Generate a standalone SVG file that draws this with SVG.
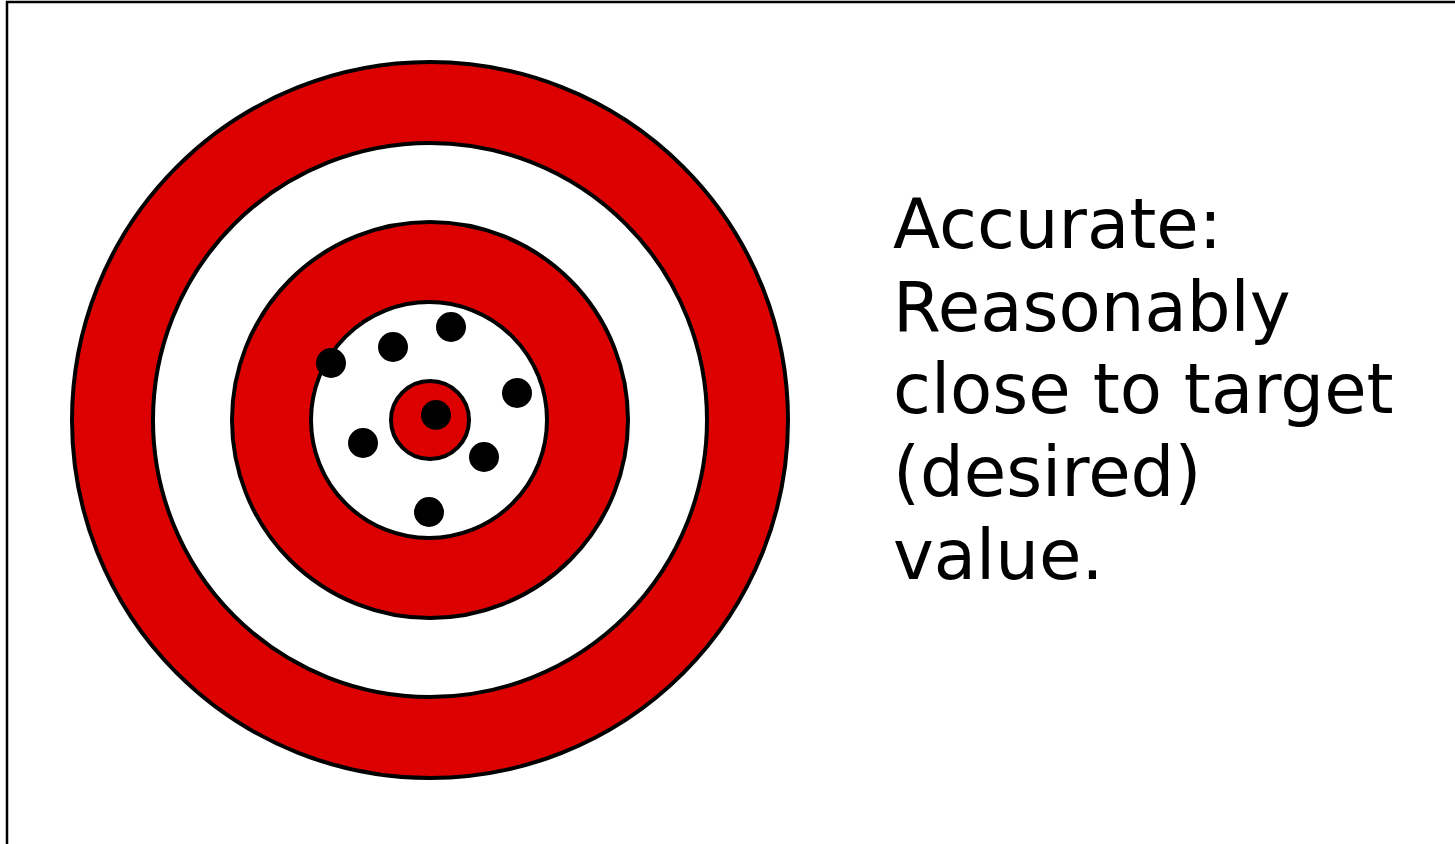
<svg xmlns="http://www.w3.org/2000/svg" width="1455" height="844" viewBox="0 0 1455 844">
<style>
.ring{stroke:#000;stroke-width:4}
.red{fill:#dd0000}
.white{fill:#fff}
.dot{fill:#000}
.lbl{font-family:"DejaVu Sans",Verdana,sans-serif;font-size:69px;fill:#000}
</style>
<rect width="1455" height="844" fill="#fff"/>
<path d="M7,844 V2 H1455" fill="none" stroke="#000" stroke-width="2.5"/>
<g id="target">
<circle class="ring red" cx="430" cy="420" r="358"/>
<circle class="ring white" cx="430" cy="420" r="277"/>
<circle class="ring red" cx="430" cy="420" r="198"/>
<circle class="ring white" cx="429" cy="420" r="118"/>
<circle class="ring red" cx="430" cy="420" r="39"/>
</g>
<g id="shots">
<circle class="dot" cx="451" cy="327" r="15"/>
<circle class="dot" cx="393" cy="347" r="15"/>
<circle class="dot" cx="331" cy="363" r="15"/>
<circle class="dot" cx="517" cy="393" r="15"/>
<circle class="dot" cx="436" cy="415" r="15"/>
<circle class="dot" cx="363" cy="443" r="15"/>
<circle class="dot" cx="484" cy="457" r="15"/>
<circle class="dot" cx="429" cy="512" r="15"/>
</g>
<g id="label">
<text class="lbl" x="893" y="248">Accurate:</text>
<text class="lbl" x="893" y="331">Reasonably</text>
<text class="lbl" x="893" y="413">close to target</text>
<text class="lbl" x="893" y="496">(desired)</text>
<text class="lbl" x="893" y="579">value.</text>
</g>
</svg>
